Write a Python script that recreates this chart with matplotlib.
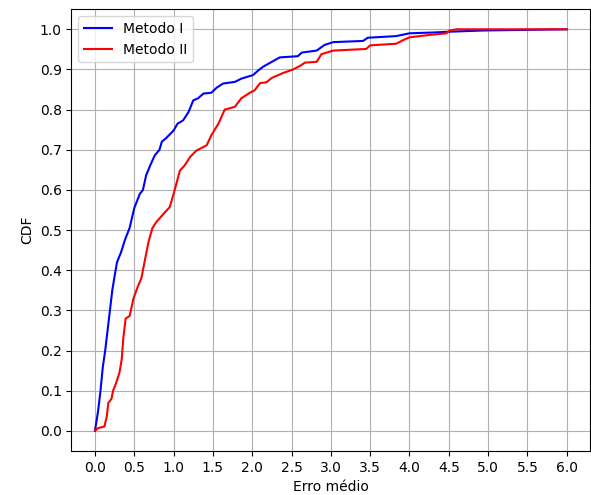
# cdf_erro_medio.py
import numpy as np
import matplotlib
matplotlib.use('Agg')
import matplotlib.pyplot as plt

# Curvas (erro medio, CDF)
x_m1 = [0.0, 0.04, 0.07, 0.10, 0.13, 0.16, 0.19, 0.22, 0.25, 0.28, 0.33, 0.38,
        0.44, 0.50, 0.57, 0.61, 0.65, 0.70, 0.76, 0.82, 0.85, 0.91, 1.00, 1.05,
        1.12, 1.19, 1.25, 1.31, 1.38, 1.48, 1.55, 1.63, 1.78, 1.86, 2.01, 2.08,
        2.14, 2.25, 2.35, 2.58, 2.63, 2.82, 2.92, 3.03, 3.41, 3.47, 3.83, 4.00,
        4.30, 4.51, 4.94, 6.00]
cdf_m1 = [0.0, 0.05, 0.10, 0.16, 0.20, 0.25, 0.30, 0.35, 0.386, 0.42, 0.444, 0.475,
          0.505, 0.555, 0.59, 0.60, 0.636, 0.66, 0.686, 0.70, 0.72, 0.73, 0.748, 0.765,
          0.773, 0.794, 0.823, 0.828, 0.84, 0.842, 0.855, 0.865, 0.869, 0.877, 0.886, 0.898,
          0.907, 0.919, 0.93, 0.933, 0.942, 0.947, 0.961, 0.968, 0.971, 0.979, 0.983, 0.99,
          0.992, 0.994, 0.997, 1.0]

x_m2 = [0.0, 0.04, 0.12, 0.15, 0.17, 0.21, 0.23, 0.27, 0.31, 0.34, 0.36, 0.39,
        0.44, 0.49, 0.54, 0.59, 0.63, 0.68, 0.73, 0.78, 0.87, 0.95, 1.00, 1.08,
        1.14, 1.21, 1.29, 1.42, 1.48, 1.57, 1.65, 1.78, 1.86, 1.97, 2.03, 2.10,
        2.18, 2.25, 2.39, 2.52, 2.61, 2.67, 2.82, 2.88, 3.03, 3.45, 3.50, 3.83,
        3.92, 4.00, 4.26, 4.47, 4.51, 4.60, 6.00]
cdf_m2 = [0.0, 0.007, 0.011, 0.036, 0.07, 0.08, 0.10, 0.12, 0.144, 0.178, 0.23, 0.28,
          0.286, 0.33, 0.357, 0.38, 0.42, 0.47, 0.505, 0.52, 0.54, 0.557, 0.59, 0.648,
          0.661, 0.682, 0.698, 0.711, 0.736, 0.765, 0.80, 0.807, 0.828, 0.842, 0.848, 0.866,
          0.868, 0.879, 0.891, 0.90, 0.909, 0.917, 0.919, 0.938, 0.947, 0.951, 0.96, 0.964,
          0.973, 0.98, 0.986, 0.99, 0.997, 1.0, 1.0]

fig = plt.figure(figsize=(5.91, 4.95), dpi=100)
ax = fig.add_axes([0.1208, 0.0889, 0.878, 0.8925])

ax.plot(x_m1, cdf_m1, color='blue', label='Metodo I')
ax.plot(x_m2, cdf_m2, color='red', label='Metodo II')

ax.set_xticks(np.arange(0, 6.01, 0.5))
ax.set_yticks(np.arange(0, 1.01, 0.1))
ax.set_xlabel('Erro médio')
ax.set_ylabel('CDF')
ax.grid(True)
ax.legend(loc='upper left')

fig.savefig('out.png', dpi=100)
